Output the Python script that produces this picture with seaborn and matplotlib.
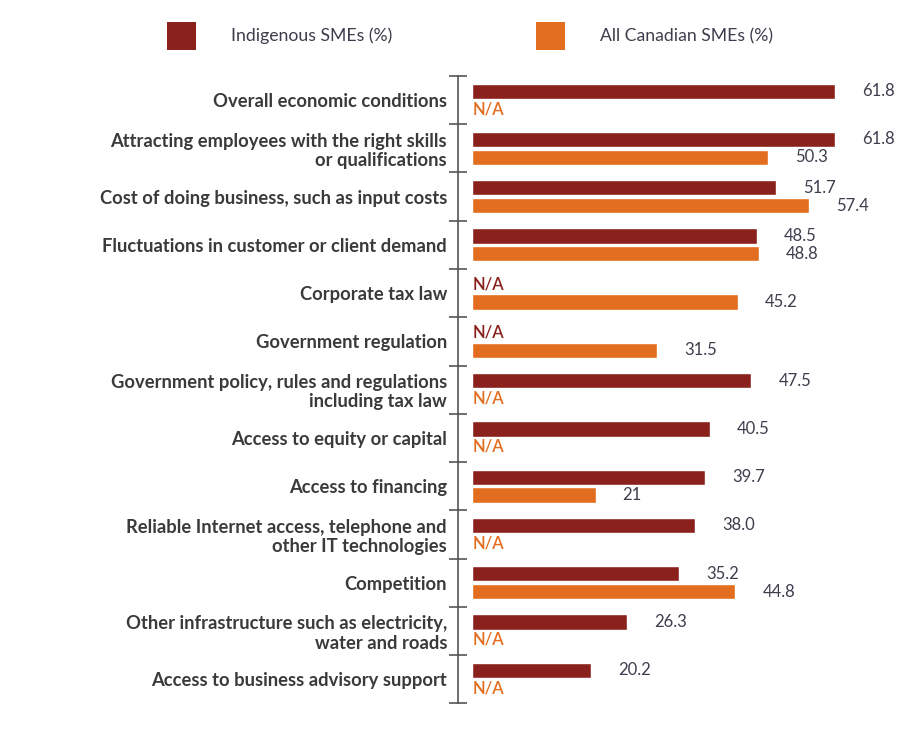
import numpy as np
import pandas as pd
import seaborn as sns
import matplotlib.pyplot as plt
from matplotlib.patches import Patch

categories = [
    "Overall economic conditions",
    "Attracting employees with the right skills\nor qualifications",
    "Cost of doing business, such as input costs",
    "Fluctuations in customer or client demand",
    "Corporate tax law",
    "Government regulation",
    "Government policy, rules and regulations\nincluding tax law",
    "Access to equity or capital",
    "Access to financing",
    "Reliable Internet access, telephone and\nother IT technologies",
    "Competition",
    "Other infrastructure such as electricity,\nwater and roads",
    "Access to business advisory support",
]
indigenous = [61.8, 61.8, 51.7, 48.5, np.nan, np.nan, 47.5, 40.5, 39.7, 38.0, 35.2, 26.3, 20.2]
canadian = [np.nan, 50.3, 57.4, 48.8, 45.2, 31.5, np.nan, np.nan, 21, np.nan, 44.8, np.nan, np.nan]
indigenous_text = ["61.8", "61.8", "51.7", "48.5", "", "", "47.5", "40.5", "39.7", "38.0", "35.2", "26.3", "20.2"]
canadian_text = ["", "50.3", "57.4", "48.8", "45.2", "31.5", "", "", "21", "", "44.8", "", ""]
series = ["Indigenous SMEs (%)", "All Canadian SMEs (%)"]
colors = ["#8A211D", "#E36D1F"]

df = pd.DataFrame({
    "category": categories * 2,
    "series": [series[0]] * len(categories) + [series[1]] * len(categories),
    "value": indigenous + canadian,
})

sns.set_style("white")
plt.rcParams['font.family'] = ['Lato', 'DejaVu Sans']

fig = plt.figure(figsize=(9.22, 7.45), dpi=100)
ax = fig.add_axes([0.497, 0.056, 0.479, 0.842])

sns.barplot(data=df, y="category", x="value", hue="series", orient="h",
            palette=colors, saturation=1, width=0.74, gap=0.15, legend=False,
            ax=ax, order=categories, hue_order=series)

ax.set_xlim(-2.4, 72.8)
ax.set_ylim(len(categories) - 0.5, -0.5)
ax.set_xlabel("")
ax.set_ylabel("")
ax.set_xticks([])
for s in ["top", "right", "bottom"]:
    ax.spines[s].set_visible(False)
ax.spines["left"].set_color("#555555")
ax.spines["left"].set_linewidth(1.2)

ax.set_yticks(range(len(categories)))
ax.set_yticklabels(categories, fontsize=13.2, fontweight="bold", color="#3a3a3a",
                   ha="right", linespacing=1.15)
ax.tick_params(axis="y", which="major", length=0, pad=8)
ax.set_yticks(np.arange(-0.5, len(categories), 1), minor=True)
ax.tick_params(axis="y", which="minor", left=True, length=13, direction="inout",
               color="#555555", width=1.2)

off = 0.185
for i in range(len(categories)):
    for vals, txts, dy, col in [(indigenous, indigenous_text, -off, colors[0]),
                                (canadian, canadian_text, off, colors[1])]:
        v = vals[i]
        if np.isnan(v):
            ax.text(0, i + dy, "N/A", color=col, fontsize=12, fontweight="semibold",
                    va="center", ha="left")
        else:
            ax.text(v + 4.6, i + dy, txts[i], color="#3d3d4d", fontsize=12,
                    va="center", ha="left")

handles = [Patch(facecolor=c, edgecolor="none") for c in colors]
fig.legend(handles, series, loc="upper left", bbox_to_anchor=(0.164, 0.992),
           ncol=2, frameon=False, fontsize=12.7, handlelength=1.65, handleheight=2.07,
           handletextpad=2.0, columnspacing=8.1, labelcolor="#3d3d4d")

fig.savefig("out.png", dpi=100)
